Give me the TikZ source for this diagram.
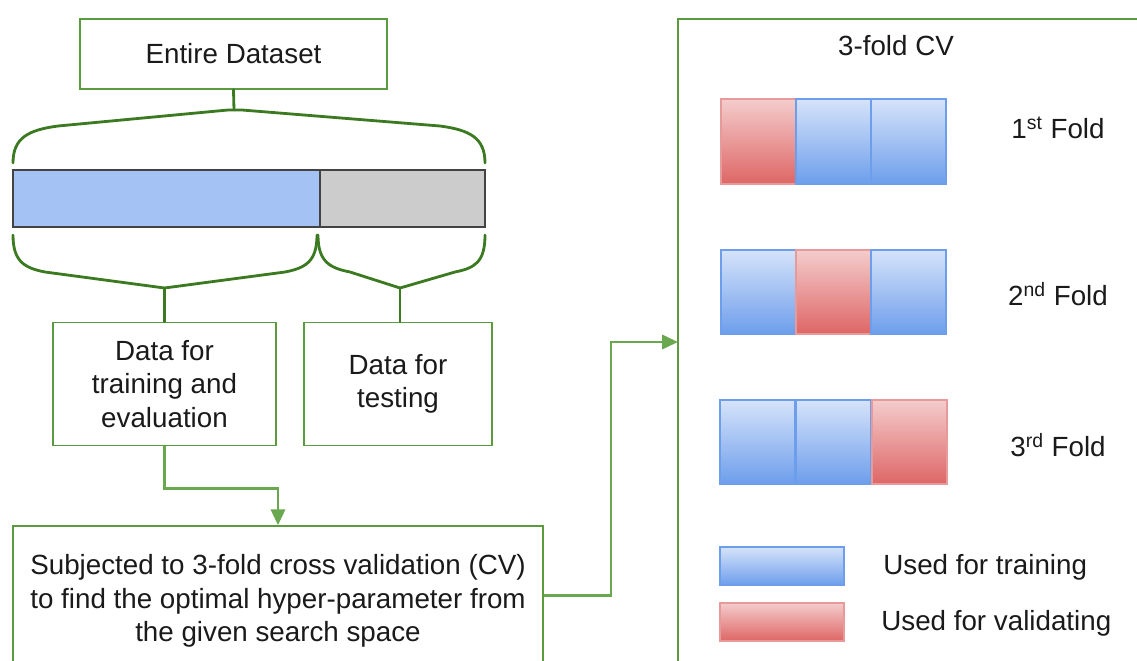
\documentclass[tikz,border=0pt]{standalone}
\usepackage{fontspec}
\setmainfont{Liberation Sans}
\usetikzlibrary{arrows.meta,calc}
\definecolor{brgreen}{HTML}{3C7A22}
\definecolor{bxgreen}{HTML}{5B9B3F}
\definecolor{cngreen}{HTML}{6AA84F}
\definecolor{barblue}{HTML}{A4C2F4}
\definecolor{bargray}{HTML}{CCCCCC}
\definecolor{barline}{HTML}{434343}
\definecolor{trtop}{HTML}{D6E3FA}
\definecolor{trbot}{HTML}{6D9EEB}
\definecolor{trline}{HTML}{6D9EEB}
\definecolor{vatop}{HTML}{F4CCCC}
\definecolor{vabot}{HTML}{DE6666}
\definecolor{valine}{HTML}{E79A9A}
\definecolor{txt}{HTML}{1A1A1A}
\begin{document}
\begin{tikzpicture}[x=0.02cm,y=-0.02cm,
  font=\fontsize{15.8}{19}\selectfont, text=txt,
  box/.style={draw=bxgreen, line width=0.9pt, fill=white, align=center, inner sep=0pt},
  brace/.style={draw=brgreen, line width=1.6pt, line cap=round, line join=round},
  conn/.style={draw=cngreen, line width=1.7pt, -{Triangle[length=9pt,width=8pt]}},
  barcell/.style={draw=barline, line width=0.9pt, inner sep=0pt, minimum height=57*0.02cm},
  cell/.style={inner sep=0pt, line width=1.1pt, minimum width=75*0.02cm},
  trn/.style={cell, top color=trtop, bottom color=trbot, draw=trline},
  val/.style={cell, top color=vatop, bottom color=vabot, draw=valine}]
\useasboundingbox (0,0) rectangle (1137,660);
\clip (0,0) rectangle (1137,660);

% left column
\node[box, minimum width=307*0.02cm, minimum height=70*0.02cm] (ent) at (233.5,54) {Entire Dataset};
\node[barcell, fill=barblue, minimum width=307*0.02cm] (barA) at (166.5,198.5) {};
\node[barcell, fill=bargray, minimum width=165*0.02cm] (barB) at (402.5,198.5) {};
\node[box, minimum width=223*0.02cm, minimum height=123*0.02cm] (train) at (164.5,384) {Data for\\training and\\evaluation};
\node[box, minimum width=188*0.02cm, minimum height=123*0.02cm] (test) at (398,384) {Data for\\testing};
\node[box, minimum width=530*0.02cm, minimum height=150*0.02cm] (cvbox) at (278,601)
  {Subjected to 3-fold cross validation (CV)\\to find the optimal hyper-parameter from\\the given search space};

% braces
\coordinate (ttip) at (234,110);
\coordinate (ltip) at (164.5,288);
\coordinate (rtip) at (400,288);
\draw[brace] (ent.south) -- (ttip);
\draw[brace] (13,163) .. controls (13,138) and (28,130) .. (58,126) -- (228,110) -- (ttip) -- (242,110)
  -- (440,126) .. controls (470,130) and (485,138) .. (485,163);
\draw[brace] (13,235) .. controls (13,262) and (25,268) .. (45,272) -- (ltip)
  -- (285,272) .. controls (305,268) and (317,262) .. (317,235);
\draw[brace] (318,235) .. controls (318,262) and (330,268) .. (350,272) -- (rtip)
  -- (455,272) .. controls (475,268) and (485,262) .. (485,235);
\draw[brace] (ltip) -- (ltip |- train.north);
\draw[brace] (rtip) -- (rtip |- test.north);

% right frame
\node[draw=bxgreen, line width=0.9pt, minimum width=482*0.02cm, minimum height=681*0.02cm, inner sep=0pt] (frame) at (919,359.5) {};
\node (cvtitle) at (896,46) {3-fold CV};
\coordinate (fin) at (678,342);

% connectors
\draw[conn] (train.south) -- ++(0,42) -| (cvbox.north);
\draw[conn] ($(cvbox.east)+(0,-6)$) -| (611,342) -- (fin);

% folds
\node[val, minimum height=85*0.02cm] (f1a) at (758.5,141.5) {};
\node[trn, minimum height=85*0.02cm] (f1b) at (833.5,141.5) {};
\node[trn, minimum height=85*0.02cm] (f1c) at (908.5,141.5) {};
\node[trn, minimum height=84*0.02cm] (f2a) at (758.5,292) {};
\node[val, minimum height=84*0.02cm] (f2b) at (833.5,292) {};
\node[trn, minimum height=84*0.02cm] (f2c) at (908.5,292) {};
\node[trn, minimum height=84*0.02cm] (f3a) at (757.5,442) {};
\node[trn, minimum height=84*0.02cm] (f3b) at (833.5,442) {};
\node[val, minimum height=84*0.02cm] (f3c) at (909.5,442) {};
\node (l1) at (1058,128) {1\textsuperscript{st} Fold};
\node (l2) at (1058,294) {2\textsuperscript{nd} Fold};
\node (l3) at (1058,445) {3\textsuperscript{rd} Fold};

% legend
\node[trn, minimum width=124*0.02cm, minimum height=38*0.02cm] (legT) at (782,566) {};
\node[val, minimum width=124*0.02cm, minimum height=38*0.02cm] (legV) at (782,622) {};
\node[anchor=west, inner sep=0pt] (legTt) at (883,567) {Used for training};
\node[anchor=west, inner sep=0pt] (legVt) at (881,623) {Used for validating};
\end{tikzpicture}
\end{document}
